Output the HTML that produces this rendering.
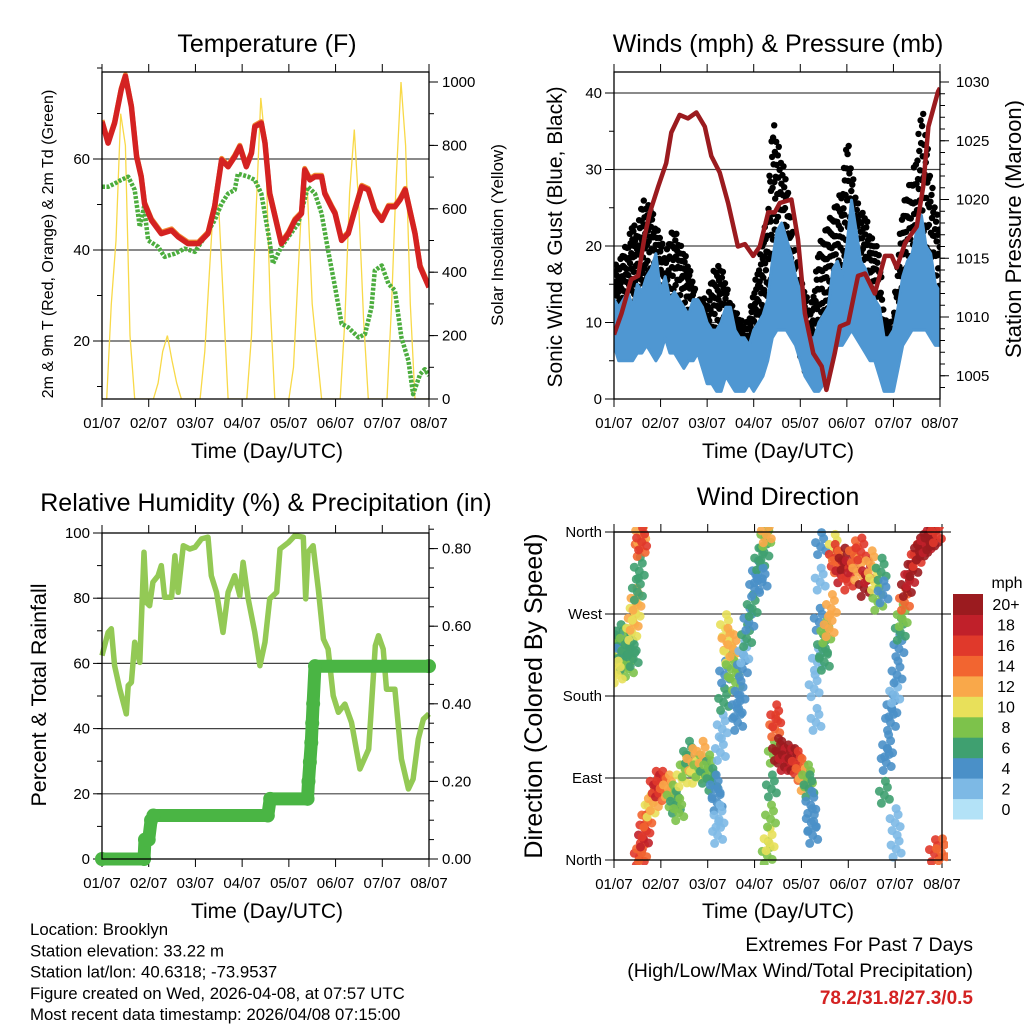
<!DOCTYPE html>
<html><head><meta charset="utf-8"><style>
html,body{margin:0;padding:0;background:#fff;}
svg{display:block;font-family:"Liberation Sans",Arial,sans-serif;}
</style></head><body>
<svg id="fig" width="1024" height="1024" viewBox="0 0 1024 1024" xmlns="http://www.w3.org/2000/svg"></svg>
<script>
// ---------- Temperature panel data ----------
const tempDays=[0,0.13,0.27,0.41,0.5,0.63,0.74,0.84,0.91,1.06,1.27,1.49,1.63,1.84,2.06,2.27,2.41,2.56,2.7,2.84,2.95,3.09,3.2,3.27,3.41,3.49,3.59,3.74,3.84,3.99,4.13,4.27,4.34,4.45,4.56,4.7,4.77,4.91,4.99,5.13,5.27,5.41,5.56,5.7,5.84,5.99,6.13,6.27,6.38,6.49,6.59,6.7,6.81,7.0];
const tempVals=[68.2,63.5,67.9,75.2,78.2,71.5,60.5,56.1,50.2,46.5,43.6,44.3,42.9,41.4,41.4,43.6,49.5,59.8,58.3,60.5,62.7,58.3,61.3,67.1,67.9,63.5,52.4,45.8,41.4,43.6,46.5,48.0,57.6,55.4,56.1,56.1,52.4,49.5,48.0,42.1,43.6,48.7,53.9,53.2,48.7,46.5,49.5,49.5,51.0,53.2,48.7,43.6,36.3,31.8];
const dewDays=[0,0.13,0.27,0.41,0.56,0.7,0.81,0.9,0.99,1.2,1.34,1.56,1.77,1.99,2.2,2.41,2.56,2.7,2.84,2.91,3.13,3.27,3.41,3.56,3.66,3.84,3.99,4.2,4.41,4.56,4.7,4.84,4.99,5.13,5.27,5.49,5.63,5.77,5.84,5.99,6.13,6.27,6.41,6.56,6.66,6.81,6.91,7.0];
const dewVals=[53.9,53.9,54.6,55.4,56.1,53.2,45.1,49.5,42.1,40.7,38.5,39.2,40.3,39.6,42.9,46.5,50.2,52.4,53.2,56.8,56.1,55.4,52.4,43.6,37.0,40.7,42.9,45.8,53.9,52.4,48.0,39.9,31.8,23.8,23.0,20.8,21.5,27.4,35.5,36.6,32.6,31.1,20.8,15.7,8.3,12.7,13.8,12.4];
const solarVals=[0,0,300,500,900,800,200,0,0,0, 0,0,50,150,200,120,50,0,0,0, 0,0,150,400,650,600,300,0,0,0, 0,0,200,600,950,800,300,0,0,0, 0,100,400,700,650,300,150,0,0,0, 0,0,250,650,850,600,250,0,0,0, 0,0,300,700,1000,800,300,0,0,0,0];
const tempTicks=[20,40,60];
const solarTicks=[0,200,400,600,800,1000];
const dayLabels=["01/07","02/07","03/07","04/07","05/07","06/07","07/07","08/07"];
// ---------- Wind panel data ----------
const presDays=[0,0.16,0.37,0.52,0.66,0.77,0.95,1.12,1.23,1.41,1.59,1.77,1.95,2.09,2.27,2.45,2.66,2.81,2.99,3.13,3.31,3.45,3.56,3.81,3.95,4.1,4.28,4.46,4.56,4.74,4.85,5.03,5.24,5.39,5.6,5.82,5.96,6.07,6.25,6.5,6.64,6.75,6.96,7.0];
const presVals=[1008.5,1010.3,1013.2,1013.5,1016.9,1018.9,1021.1,1023.1,1025.7,1027.2,1026.9,1027.4,1026.2,1023.7,1022.3,1019.7,1016.0,1016.2,1015.2,1016.0,1018.9,1018.9,1019.7,1020.0,1016.6,1010.3,1006.9,1005.8,1003.8,1006.9,1009.2,1009.5,1013.5,1013.7,1012.0,1015.2,1015.2,1014.2,1016.3,1017.7,1021.1,1026.2,1029.2,1029.5];
const windHi=[13,12,13,14,12,15,14,16,17,19,14,16,13,14,13,12,11,13,13,12,10,9,9,10,12,12,9,8,8,7,9,10,11,13,18,22,23,21,19,16,14,10,8,8,10,11,12,17,18,16,20,26,22,18,17,15,13,12,8,8,9,12,16,18,19,22,24,20,19,15,14];
const windLo=[7,5,5,5,5,6,6,7,6,5,6,8,6,6,5,4,5,5,6,4,2,2,1,1,3,2,1,1,1,2,1,2,3,5,8,9,9,9,8,7,5,3,2,1,1,2,4,6,7,7,8,9,8,7,6,5,5,3,1,1,1,4,7,8,9,9,9,9,8,7,7];
const gustHi=[18,18,20,21,24,22,27,26,26,23,22,19,22,23,21,20,18,16,13,14,13,17,18,18,16,13,12,11,10,11,15,18,22,25,38,35,32,30,24,20,16,15,12,15,21,22,24,25,27,28,36,31,27,25,25,22,21,20,11,10,11,20,26,28,30,33,40,36,30,26,23];
const gustLo=[9,9,10,10,12,12,13,13,12,11,11,8,9,10,9,8,8,6,6,5,3,4,5,6,4,4,3,3,3,4,4,6,8,11,15,17,16,14,12,8,5,3,3,3,6,8,9,11,12,12,14,15,14,12,11,10,9,6,4,4,4,6,10,12,13,14,15,15,12,10,10];
const windTicks=[0,10,20,30,40];
const presTicks=[1005,1010,1015,1020,1025,1030];
// ---------- RH panel data ----------
const rhDays=[0,0.13,0.2,0.27,0.38,0.52,0.56,0.63,0.7,0.81,0.9,0.95,1.02,1.09,1.2,1.27,1.34,1.49,1.56,1.63,1.74,1.88,1.99,2.13,2.27,2.34,2.45,2.59,2.7,2.84,2.95,3.02,3.13,3.27,3.38,3.49,3.59,3.74,3.81,3.99,4.13,4.31,4.36,4.41,4.52,4.63,4.74,4.84,4.95,5.06,5.2,5.34,5.52,5.71,5.85,5.92,6.02,6.09,6.27,6.41,6.56,6.66,6.77,6.88,7.0];
const rhVals=[62.4,69.5,70.6,59.3,52.1,44.5,53.2,54.2,66.5,60.3,94.1,78.7,77.7,84.9,86.9,90.0,80.3,80.3,93.0,81.8,96.1,95.1,95.6,98.2,98.7,86.9,81.8,69.5,81.8,86.9,80.8,91.0,79.8,69.5,59.3,66.5,79.8,81.8,95.1,97.1,99.2,98.7,79.8,94.1,96.1,82.8,67.5,64.4,50.1,45.0,47.5,41.9,27.6,33.7,65.4,68.5,64.4,52.1,52.1,30.7,21.5,24.5,36.8,42.9,44.5];
const rainDays=[0,0.9,0.92,1.0,1.05,1.1,3.55,3.6,4.4,4.42,4.45,4.48,4.5,4.52,4.56,7];
const rainVals=[0,0,0.05,0.05,0.1,0.112,0.112,0.155,0.155,0.2,0.25,0.3,0.35,0.4,0.497,0.497];
const rhTicks=[0,20,40,60,80,100];
const rainTicks=[0,0.2,0.4,0.6,0.8];
const rainTickLabels=["0.00","0.20","0.40","0.60","0.80"];
// ---------- Wind direction data ----------
const wdTime=[0.02,0.06,0.09,0.13,0.16,0.2,0.24,0.27,0.31,0.34,0.38,0.41,0.41,0.45,0.47,0.5,0.54,0.56,0.57,0.59,0.07,
0.54,0.59,0.63,0.66,0.7,0.77,0.84,0.88,0.95,1.02,1.09,1.16,1.24,1.31,1.38,1.45,1.52,1.59,1.66,1.74,1.81,1.88,1.95,2.02,2.09,2.16,2.2,2.21,
2.24,2.27,2.31,2.34,2.36,2.38,2.41,2.45,2.5,2.54,2.59,2.63,2.64,2.69,2.74,2.77,2.83,2.88,2.95,3.0,3.06,3.11,3.16,3.2,3.24,3.25,
3.27,3.31,3.34,3.36,3.4,3.43,3.45,3.49,3.56,3.63,3.7,3.77,3.84,3.91,3.99,4.06,4.13,4.16,4.2,4.21,4.24,
4.27,4.31,4.34,4.38,4.4,4.41,4.45,4.49,4.52,4.59,4.64,4.7,4.7,4.77,4.84,4.91,4.99,5.06,5.13,5.2,5.27,5.34,5.41,5.49,5.56,5.63,5.7,5.74,
5.77,5.81,5.84,5.9,5.93,5.99,6.0,6.02,6.04,6.08,6.11,6.15,6.2,6.24,6.31,6.38,6.45,6.52,6.59,6.66,6.74,6.81,6.88,6.84,6.99];
const wdDir=[236,225,214,243,228,217,239,225,210,232,250,261,221,272,283,294,317,342,357,349,203,
3,8,23,34,45,56,63,82,78,82,74,78,67,60,52,89,100,115,107,93,100,115,93,100,85,78,63,27,
45,118,144,173,203,254,239,225,210,232,195,166,151,181,210,225,243,261,276,298,313,327,305,338,353,357,
5,19,45,78,115,144,155,118,115,107,111,107,107,104,96,85,89,78,60,41,27,
188,151,217,261,305,344,232,217,247,254,276,342,331,324,313,327,305,324,335,316,338,298,313,324,305,283,316,291,
71,107,122,151,166,181,41,12,203,232,250,265,283,298,309,320,331,338,342,346,349,353,357,7,8];
const wdSpd=[7,8,10,6,5,7,9,6,8,6,10,12,6,11,12,7,6,14,12,16,10,
16,14,18,16,14,10,12,16,18,16,14,12,8,6,8,10,8,6,12,10,8,12,6,8,6,5,4,2,
2,2,2,6,4,10,12,10,8,12,8,4,4,4,4,2,6,4,6,4,4,6,4,6,8,12,
8,10,8,6,8,14,16,20,20,18,20,18,20,16,14,12,8,6,4,4,4,
2,2,2,4,2,4,6,6,8,12,12,10,16,14,18,20,16,18,14,12,16,20,18,12,10,8,6,4,
6,4,4,4,4,2,2,2,4,4,6,8,14,20,18,20,16,20,20,18,20,20,16,16,14];
const dirTicks=[0,90,180,270,360];
const dirLabels=["North","East","South","West","North"];
const speedBins=["0","2","4","6","8","10","12","14","16","18","20+"];
const binColors=["#b3e2f7","#7db9e5","#4a90c8","#3fa070","#7dc24b","#e8e05a","#f9a84a","#f26530","#e0392b","#c0202a","#9b1b1f"];

const NS="http://www.w3.org/2000/svg";
const svg=document.getElementById("fig");
const TICKF=15;
function mk(tag,attrs,parent){const e=document.createElementNS(NS,tag);for(const k in attrs)e.setAttribute(k,attrs[k]);(parent||svg).appendChild(e);return e;}
function txt(s,x,y,size,anchor,parent,extra){const e=mk("text",Object.assign({x:x,y:y,"font-size":size,"text-anchor":anchor||"start",fill:"#000"},extra||{}),parent);e.textContent=s;return e;}
function grp(name){const g=mk("g",{});return g;}
function pathFrom(xs,ys,fx,fy){let d="";for(let i=0;i<xs.length;i++)d+=(i?"L":"M")+fx(xs[i]).toFixed(1)+","+fy(ys[i]).toFixed(1);return d;}

function frame(g,L,T,R,B,xf,leftTicks,leftF,leftLab,rightTicks,rightF,rightLab,minorL,minorR,gridTicks,rOff){
  gridTicks.forEach(v=>{const l=mk("line",{x1:L,x2:R,y1:leftF(v),y2:leftF(v),stroke:"#444","stroke-width":1.2},g);});
  const ax=mk("g",{},g);
  for(let d=0;d<=7;d++){const x=xf(d);mk("line",{x1:x,x2:x,y1:B,y2:B+8,stroke:"#000","stroke-width":1},ax);mk("line",{x1:x,x2:x,y1:T,y2:T-8,stroke:"#000","stroke-width":1},ax);
    const t=txt(dayLabels[d],x,B+29,TICKF,"middle",ax);}
  const ay=mk("g",{},g);
  minorL.forEach(v=>mk("line",{x1:L,x2:L-5,y1:leftF(v),y2:leftF(v),stroke:"#000"},ay));
  leftTicks.forEach((v,i)=>{mk("line",{x1:L,x2:L-9,y1:leftF(v),y2:leftF(v),stroke:"#000"},ay);const t=txt(leftLab[i],L-12,leftF(v)+5,TICKF,"end",ay);});
  const ar=mk("g",{},g);
  minorR.forEach(v=>mk("line",{x1:R,x2:R+5,y1:rightF(v),y2:rightF(v),stroke:"#000"},ar));
  rightTicks.forEach((v,i)=>{mk("line",{x1:R,x2:R+9,y1:rightF(v),y2:rightF(v),stroke:"#000"},ar);if(rightLab){const t=txt(rightLab[i],R+(rOff||13),rightF(v)+5,TICKF,"start",ar);}});
}
function border(g,L,T,R,B){const r=mk("rect",{x:L,y:T,width:R-L,height:B-T,fill:"none",stroke:"#000","stroke-width":1.3},g);}
function range(a,b,s){const o=[];for(let v=a;v<=b+1e-9;v+=s)o.push(+v.toFixed(4));return o;}

// ===== Panel 1: Temperature =====
(function(){
  const L=102,T=72,R=429,B=399;
  const x=d=>L+d*(R-L)/7, yT=t=>250-(t-40)*4.55, yS=s=>399-s*0.317;
  const g=grp("temperature-panel");
  const clip=mk("clipPath",{id:"c1"},g);mk("rect",{x:L,y:T,width:R-L,height:B-T},clip);
  frame(g,L,T,R,B,x,tempTicks,yT,tempTicks.map(String),solarTicks,yS,solarTicks.map(String),range(10,80,10),range(0,1000,100),tempTicks,13);
  const data=mk("g",{"clip-path":"url(#c1)"},g);
  const sd=solarVals.map((v,i)=>i/10);
  const sl=mk("path",{d:pathFrom(sd,solarVals,x,yS),fill:"none",stroke:"#f8d948","stroke-width":1.3},data);
  const dl=mk("path",{d:pathFrom(dewDays,dewVals,x,yT),fill:"none",stroke:"#4cad3e","stroke-width":4.5,"stroke-dasharray":"3 1.5","stroke-linejoin":"round"},data);
  const ol=mk("path",{d:pathFrom(tempDays,tempVals,x,t=>yT(t)-1.5),fill:"none",stroke:"#f08a30","stroke-width":5,"stroke-linejoin":"round"},data);
  const rl=mk("path",{d:pathFrom(tempDays,tempVals,x,yT),fill:"none",stroke:"#d42222","stroke-width":5.5,"stroke-linejoin":"round"},data);
  border(g,L,T,R,B);
  const t1=txt("Temperature (F)",267,52,25,"middle",g);
  const t2=txt("Time (Day/UTC)",267,458,21,"middle",g);
  const t3=txt("2m & 9m T (Red, Orange) & 2m Td (Green)",0,0,16,"middle",g,{transform:"translate(53,244) rotate(-90)"});
  const t4=txt("Solar Insolation (Yellow)",0,0,17,"middle",g,{transform:"translate(503,235) rotate(-90)"});
})();

// ===== Panel 2: Winds & Pressure =====
(function(){
  const L=614,T=72,R=940,B=399;
  const x=d=>L+d*(R-L)/7, yW=w=>399-w*7.65, yP=p=>317-(p-1010)*11.75;
  const g=grp("winds-pressure-panel");
  const clip=mk("clipPath",{id:"c2"},g);mk("rect",{x:L,y:T,width:R-L,height:B-T},clip);
  frame(g,L,T,R,B,x,windTicks,yW,windTicks.map(String),presTicks,yP,presTicks.map(String),range(0,40,5),range(1004,1030,1),windTicks.slice(1),16);
  const data=mk("g",{"clip-path":"url(#c2)"},g);
  const gd=mk("g",{fill:"#000"},data);
  const fr=[0.05,0.55,0.25,0.85,0.4,0.7,0.15,0.95,0.6,0.3,0.8,0.5,0.1,0.65,0.35,0.9,0.2,0.75];
  for(let i=0;i<gustHi.length-1;i++){for(let k=0;k<fr.length;k++){const a=k/fr.length;const t=(i+a)/10;
    const hi=gustHi[i]*(1-a)+gustHi[i+1]*a, lo=gustLo[i]*(1-a)+gustLo[i+1]*a;
    const c=mk("circle",{cx:x(t).toFixed(1),cy:yW(lo+(hi-lo)*fr[k]).toFixed(1),r:3.2},gd);}}
  const days=windHi.map((v,i)=>i/10);
  let d="";days.forEach((t,i)=>d+=(i?"L":"M")+x(t).toFixed(1)+","+yW(windHi[i]).toFixed(1));
  for(let i=days.length-1;i>=0;i--)d+="L"+x(days[i]).toFixed(1)+","+yW(windLo[i]).toFixed(1);
  const wb=mk("path",{d:d+"Z",fill:"#4f97d2",stroke:"#4f97d2","stroke-width":3,"stroke-linejoin":"round"},data);
  const pl=mk("path",{d:pathFrom(presDays,presVals,x,yP),fill:"none",stroke:"#9b1b1f","stroke-width":4.5,"stroke-linejoin":"round"},data);
  border(g,L,T,R,B);
  const t1=txt("Winds (mph) & Pressure (mb)",778,52,25,"middle",g);
  const t2=txt("Time (Day/UTC)",778,458,21,"middle",g);
  const t3=txt("Sonic Wind & Gust (Blue, Black)",0,0,21,"middle",g,{transform:"translate(562,237) rotate(-90)"});
  const t4=txt("Station Pressure (Maroon)",0,0,22,"middle",g,{transform:"translate(1021,229) rotate(-90)"});
})();

// ===== Panel 3: RH & Precip =====
(function(){
  const L=102,T=533,R=429,B=859;
  const x=d=>L+d*(R-L)/7, yR=h=>859-h*3.26, yRain=r=>859-r*388;
  const g=grp("humidity-precip-panel");
  const clip=mk("clipPath",{id:"c3"},g);mk("rect",{x:L-8,y:T,width:R-L+16,height:B-T+8},clip);
  frame(g,L,T,R,B,x,rhTicks,yR,rhTicks.map(String),rainTicks,yRain,rainTickLabels,range(0,100,10),range(0,0.85,0.05),[20,40,60,80],13);
  const data=mk("g",{"clip-path":"url(#c3)"},g);
  const rl=mk("path",{d:pathFrom(rhDays,rhVals,x,yR),fill:"none",stroke:"#93c955","stroke-width":5.5,"stroke-linejoin":"round"},data);
  const rn=mk("path",{d:pathFrom(rainDays,rainVals,x,yRain),fill:"none",stroke:"#4ab544","stroke-width":13,"stroke-linecap":"round","stroke-linejoin":"round"},data);
  rainDays.forEach((t,i)=>{const c=mk("circle",{cx:x(t),cy:yRain(rainVals[i]),r:7,fill:"#4ab544"},data);});
  border(g,L,T,R,B);
  const t1=txt("Relative Humidity (%) & Precipitation (in)",266,511,25,"middle",g);
  const t2=txt("Time (Day/UTC)",267,918,21,"middle",g);
  const t3=txt("Percent & Total Rainfall",0,0,21.5,"middle",g,{transform:"translate(46,695) rotate(-90)"});
})();

// ===== Panel 4: Wind direction =====
(function(){
  const L=614,T=532,R=942,B=860;
  const x=d=>L+d*(R-L)/7, yD=a=>860-a*(B-T)/360;
  const g=grp("wind-direction-panel");
  const clip=mk("clipPath",{id:"c4"},g);mk("rect",{x:L,y:T-5,width:R-L+6,height:B-T+10},clip);
  frame(g,L,T,R,B,x,dirTicks,yD,dirLabels,dirTicks,yD,null,[],[],[90,180,270,360]);
  const data=mk("g",{"clip-path":"url(#c4)"},g);
  const offs=[[0,0],[3,-8],[-3,8],[5,4],[-5,-4],[1,-14]];
  wdTime.forEach((t,i)=>{const b=Math.min(10,Math.floor(wdSpd[i]/2));
    offs.forEach(o=>{const c=mk("circle",{cx:(x(t)+o[0]).toFixed(1),cy:(yD(wdDir[i])+o[1]).toFixed(1),r:4.5,fill:binColors[b],"fill-opacity":0.9},data);});});
  border(g,L,T,R,B);
  const t1=txt("Wind Direction",778,505,25,"middle",g);
  const t2=txt("Time (Day/UTC)",778,918,21,"middle",g);
  const t3=txt("Direction (Colored By Speed)",0,0,25,"middle",g,{transform:"translate(542,696) rotate(-90)"});
  const cb=grp("speed-colorbar");
  const bh=(819-594)/11;
  speedBins.forEach((s,i)=>{const y=819-(i+1)*bh;const r=mk("rect",{x:953,y:y.toFixed(1),width:30,height:(bh+0.5).toFixed(1),fill:binColors[i]},cb);
    const t=txt(s,1006,y+bh/2+6,16,"middle",cb);});
  const mp=txt("mph",1007,588,16,"middle",cb);
})();

// ===== Footer text =====
(function(){
  const g=grp("station-info");
  ["Location: Brooklyn","Station elevation: 33.22 m","Station lat/lon: 40.6318; -73.9537","Figure created on Wed, 2026-04-08, at 07:57 UTC","Most recent data timestamp: 2026/04/08 07:15:00"].forEach((s,i)=>{
    const t=txt(s,30,935+i*21.3,16.8,"start",g);});
  const e=grp("extremes-summary");
  const a=txt("Extremes For Past 7 Days",973,951,19.5,"end",e);
  const b=txt("(High/Low/Max Wind/Total Precipitation)",973,977,19.5,"end",e);
  const c=txt("78.2/31.8/27.3/0.5",973,1004,19,"end",e,{fill:"#d42222","font-weight":"bold"});
})();
</script>
</body></html>
